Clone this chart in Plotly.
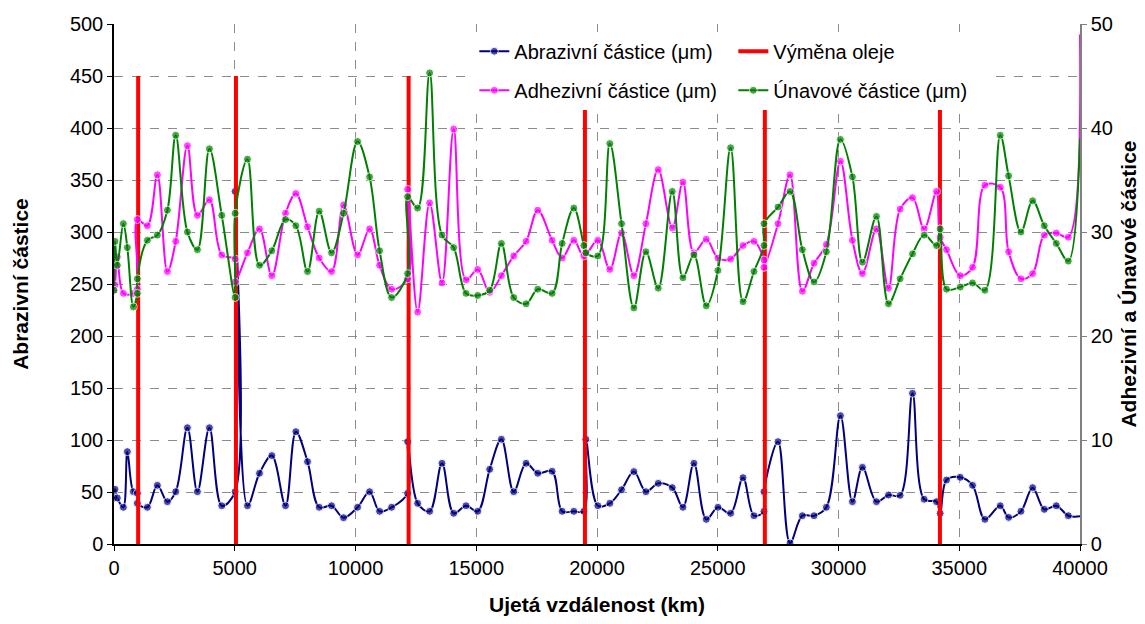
import plotly.graph_objects as go

# ---- data ----
km = [0, 41, 138, 387, 553, 801, 967, 967, 1382, 1796, 2211, 2556, 3040, 3454, 3951, 4462,
      5016, 5016, 5527, 6025, 6536, 7102, 7531, 8015, 8497, 9009, 9505, 10086, 10583, 10997,
      11495, 12158, 12158, 12573, 13070, 13582, 14065, 14577, 15060, 15557, 16041, 16552,
      17064, 17547, 18142, 18557, 19040, 19454, 19537, 20034, 20532, 21016, 21527, 22025,
      22536, 23117, 23558, 24013, 24525, 25008, 25533, 26046, 26500, 26914, 26914, 27495,
      27992, 28504, 28987, 29499, 30080, 30577, 30991, 31572, 32069, 32552, 33064, 33547,
      34059, 34209, 34473, 35040, 35551, 36062, 36698, 37044, 37554, 38038, 38522, 39019,
      39516, 40000]

abrazivni = [44.2, 52.6, 44.2, 35.3, 88.8, 50.3, 48.7, 39.1, 35.3, 56.4, 40.7, 50.3, 111.8, 50.3,
             111.8, 36.8, 50.3, 339, 36.8, 68, 85, 36.8, 108, 79.2, 35.3, 36.8, 25.3, 35.3, 50.3,
             31.4, 35.3, 48.7, 98.4, 39.1, 31.4, 77.6, 29.5, 36.8, 31.4, 71.8, 100.7, 50.3, 77.6,
             68, 69.9, 31.4, 31.4, 31.4, 100.7, 36.8, 39.1, 52.2, 69.6, 50.3, 58.3, 54.2, 35.3,
             77.6, 23.7, 35.3, 29.5, 63.8, 27.2, 31.4, 50.3, 98.4, 1, 27.2, 27.2, 35.3, 123.4,
             40.7, 73.7, 40.7, 47.1, 46.8, 144.9, 43, 40.7, 29.5, 61.5, 64.1, 56.4, 23.7, 36.8,
             25.6, 31.4, 54.2, 33.3, 36.8, 27.2, 26.6]

adhezivni = [24.4, 24.9, 27.6, 24.1, None, 24.1, 24.5, 31.2, 30.6, 35.5, 26.2, 29.1, 38.3, 31.6,
             33.1, 27.8, 27.4, 25.2, 28.0, 30.3, 25.8, 31.8, 33.7, 30.5, 27.5, 26.2, 32.6, 27.8,
             30.3, 26.8, 24.5, 25.5, 34.1, 22.3, 32.8, 25.1, 39.9, 25.4, 26.4, 24.2, 25.8, 27.7,
             29.1, 32.1, 29.2, 27.5, 29.2, 27.7, None, 29.2, 26.4, 29.9, 25.8, 30.8, 36.0, 30.4,
             34.8, 28.0, 29.3, 27.5, 27.4, 28.7, 29.1, 27.3, 26.6, 30.8, 35.5, 24.3, 27.0, 28.8,
             36.8, 29.2, 26.0, 30.3, 24.6, 32.2, 33.3, 30.3, 33.9, 29.5, 28.3, 25.8, 26.6, 34.5,
             34.3, 28.1, 25.5, 26.0, 29.7, 29.9, 29.5, 49.0]

unavove = [24.4, 29.1, 26.8, 30.8, 28.5, 22.8, 24.1, 25.5, 29.2, 29.7, 32.1, 39.3, 30.0, 28.3,
           38.0, 31.6, 23.7, 31.8, 37.0, 26.8, 28.2, 31.2, 30.6, 26.2, 32.0, 28.0, 31.8, 38.7,
           35.3, 28.2, 23.7, 26.0, 33.4, 32.3, 45.3, 29.7, 28.5, 24.1, 23.9, 24.4, 28.9, 23.7,
           23.1, 24.5, 24.1, 28.9, 32.3, 28.7, 28.0, 27.7, 38.5, 30.8, 22.7, 28.1, 24.6, 33.9,
           25.6, 27.8, 22.9, 26.3, 38.1, 23.3, 26.2, 28.7, 30.8, 32.4, 33.9, 28.3, 25.2, 28.1,
           38.9, 35.3, 27.1, 31.5, 23.1, 25.5, 27.9, 29.7, 28.7, 30.3, 24.5, 24.7, 25.1, 24.4,
           39.3, 35.4, 30.0, 33.0, 30.6, 28.9, 27.2, 39.0]

vymena_oleje_km = [1000, 5050, 12200, 19500, 26950, 34200]
vymena_oleje_vyska = 450

x_ticks = [0, 5000, 10000, 15000, 20000, 25000, 30000, 35000, 40000]

names = ["Abrazivní částice (μm)", "Výměna oleje", "Adhezivní částice (μm)", "Únavové částice (μm)"]

FONT = "Liberation Sans, Arial, sans-serif"
n = len(km)
msize = [8] * (n - 1) + [0]

# oil change vertical segments
vx, vy = [], []
for k in vymena_oleje_km:
    vx += [k, k, None]
    vy += [0, vymena_oleje_vyska, None]

fig = go.Figure()
fig.add_trace(go.Scatter(x=km, y=abrazivni, name=names[0], mode="lines+markers",
                         line=dict(color="#000080", width=2, shape="spline", smoothing=1),
                         marker=dict(color="#000080", size=msize), legend="legend"))
fig.add_trace(go.Scatter(x=vx, y=vy, name=names[1], mode="lines",
                         line=dict(color="#ff0000", width=4), legend="legend"))
fig.add_trace(go.Scatter(x=km, y=adhezivni, name=names[2], mode="lines+markers", yaxis="y2",
                         connectgaps=True,
                         line=dict(color="#ff00ff", width=2, shape="spline", smoothing=1),
                         marker=dict(color="#ff00ff", size=msize), legend="legend2"))
fig.add_trace(go.Scatter(x=km, y=unavove, name=names[3], mode="lines+markers", yaxis="y2",
                         line=dict(color="#008000", width=2, shape="spline", smoothing=1),
                         marker=dict(color="#008000", size=msize), legend="legend2"))

grid = dict(showgrid=True, gridcolor="#8c8c8c", griddash="dash", gridwidth=1)

fig.update_layout(
    width=1137, height=616,
    margin=dict(l=106, r=65, t=16, b=80),
    paper_bgcolor="white", plot_bgcolor="white",
    font=dict(family=FONT, size=20, color="black"),
    xaxis=dict(range=[0, 40000], tickvals=x_ticks, ticktext=[str(t) for t in x_ticks],
               showline=True, linecolor="black", linewidth=1.5, ticks="outside", ticklen=5,
               tickcolor="black", zeroline=False, automargin=False,
               tickfont=dict(size=20),
               title=dict(text="<b>Ujetá vzdálenost (km)</b>", font=dict(size=21), standoff=20),
               **grid),
    yaxis=dict(range=[0, 500], dtick=50, showline=True, linecolor="black", linewidth=1.5,
               ticks="outside", ticklen=5, tickcolor="black", zeroline=False, automargin=False,
               tickfont=dict(size=20),
               title=dict(text="<b>Abrazivní částice</b>", font=dict(size=21), standoff=36),
               **grid),
    yaxis2=dict(range=[0, 50], dtick=10, overlaying="y", side="right", showgrid=False,
                showline=True, linecolor="#808080", linewidth=1.5, ticks="outside", ticklen=5,
                tickcolor="#808080", zeroline=False, automargin=False,
                tickfont=dict(size=20),
                title=dict(text="<b>Adhezivní a Únavové částice</b>", font=dict(size=21), standoff=9)),
    legend=dict(orientation="h", x=0.373, xanchor="left", y=0.985, yanchor="top",
                bgcolor="white", entrywidth=214, font=dict(size=20), traceorder="normal"),
    legend2=dict(orientation="h", x=0.373, xanchor="left", y=0.91, yanchor="top",
                 bgcolor="white", entrywidth=214, font=dict(size=20), traceorder="normal"),
    showlegend=True,
)

fig.write_html("out.html")
